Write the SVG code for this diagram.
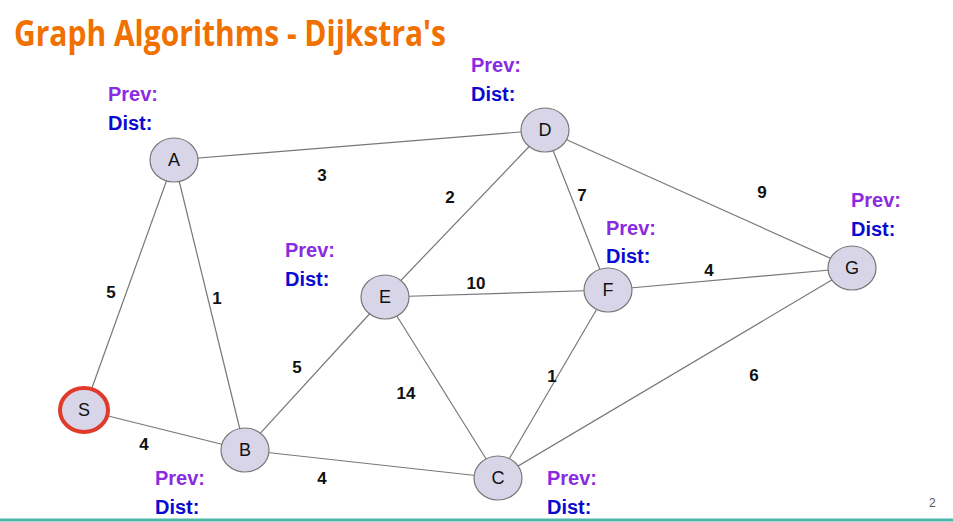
<svg xmlns="http://www.w3.org/2000/svg" width="953" height="522" viewBox="0 0 953 522">
<style>
.n ellipse{fill:#d9d5e8;stroke:#777;stroke-width:1.2}
.n text{font-family:"Liberation Sans",Arial,sans-serif;font-size:18px;text-anchor:middle;fill:#111}
.e line{stroke:#777;stroke-width:1.2}
.w{font-family:"Liberation Sans",Arial,sans-serif;font-size:17px;font-weight:bold;fill:#111;text-anchor:middle}
.p{font-family:"Liberation Sans",Arial,sans-serif;font-size:20px;font-weight:bold;fill:#8a2be2}
.d{font-family:"Liberation Sans",Arial,sans-serif;font-size:20px;font-weight:bold;fill:#0a0ad0}
</style>
<rect width="953" height="522" fill="#fff"/>
<text x="14" y="46" font-family="Open Sans, sans-serif" font-size="36" font-weight="bold" fill="#f07000" textLength="432" lengthAdjust="spacingAndGlyphs">Graph Algorithms - Dijkstra's</text>
<line x1="0" y1="520" x2="953" y2="520" stroke="#4db6a6" stroke-width="3"/>
<text x="929" y="507" font-family="Liberation Sans, sans-serif" font-size="12" fill="#555">2</text>
<g id="edges" class="e">
<line x1="174" y1="160" x2="545" y2="130"/>
<line x1="174" y1="160" x2="84" y2="410"/>
<line x1="174" y1="160" x2="245" y2="450"/>
<line x1="84" y1="410" x2="245" y2="450"/>
<line x1="245" y1="450" x2="385" y2="297"/>
<line x1="245" y1="450" x2="498" y2="478"/>
<line x1="385" y1="297" x2="545" y2="130"/>
<line x1="385" y1="297" x2="608" y2="290"/>
<line x1="385" y1="297" x2="498" y2="478"/>
<line x1="545" y1="130" x2="608" y2="290"/>
<line x1="545" y1="130" x2="852" y2="268"/>
<line x1="608" y1="290" x2="852" y2="268"/>
<line x1="608" y1="290" x2="498" y2="478"/>
<line x1="852" y1="268" x2="498" y2="478"/>
</g>
<g id="weights">
<text class="w" x="322" y="181">3</text>
<text class="w" x="111" y="298">5</text>
<text class="w" x="217" y="304">1</text>
<text class="w" x="144" y="450">4</text>
<text class="w" x="297" y="373">5</text>
<text class="w" x="322" y="484">4</text>
<text class="w" x="450" y="203">2</text>
<text class="w" x="476" y="289">10</text>
<text class="w" x="406" y="399">14</text>
<text class="w" x="582" y="201">7</text>
<text class="w" x="762" y="198">9</text>
<text class="w" x="709" y="276">4</text>
<text class="w" x="552" y="382">1</text>
<text class="w" x="754" y="381">6</text>
</g>
<g id="labels">
<text class="p" x="108" y="101">Prev:</text><text class="d" x="108" y="130">Dist:</text>
<text class="p" x="471" y="72">Prev:</text><text class="d" x="471" y="101">Dist:</text>
<text class="p" x="851" y="207">Prev:</text><text class="d" x="851" y="236">Dist:</text>
<text class="p" x="606" y="235">Prev:</text><text class="d" x="606" y="263">Dist:</text>
<text class="p" x="285" y="257">Prev:</text><text class="d" x="285" y="286">Dist:</text>
<text class="p" x="155" y="485">Prev:</text><text class="d" x="155" y="514">Dist:</text>
<text class="p" x="547" y="485">Prev:</text><text class="d" x="547" y="514">Dist:</text>
</g>
<g id="node-A" class="n"><ellipse cx="174" cy="160" rx="24" ry="22"/><text x="174" y="166">A</text></g>
<g id="node-D" class="n"><ellipse cx="545" cy="130" rx="24" ry="22"/><text x="545" y="136">D</text></g>
<g id="node-E" class="n"><ellipse cx="385" cy="297" rx="24" ry="22"/><text x="385" y="303">E</text></g>
<g id="node-F" class="n"><ellipse cx="608" cy="290" rx="24" ry="22"/><text x="608" y="296">F</text></g>
<g id="node-G" class="n"><ellipse cx="852" cy="268" rx="24" ry="22"/><text x="852" y="274">G</text></g>
<g id="node-B" class="n"><ellipse cx="245" cy="450" rx="24" ry="22"/><text x="245" y="456">B</text></g>
<g id="node-C" class="n"><ellipse cx="498" cy="478" rx="24" ry="22"/><text x="498" y="484">C</text></g>
<g id="node-S" class="n"><ellipse cx="84" cy="410" rx="24" ry="22" style="stroke:#e03a2a;stroke-width:4"/><text x="84" y="416">S</text></g>
</svg>
